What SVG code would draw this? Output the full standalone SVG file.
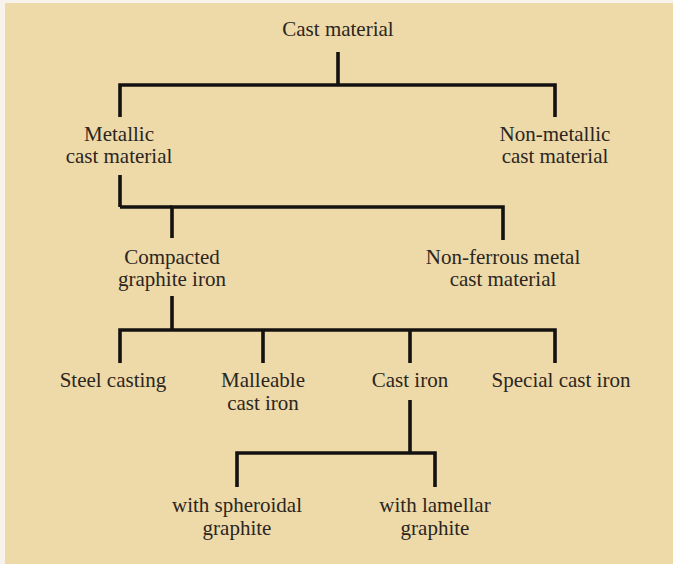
<svg xmlns="http://www.w3.org/2000/svg" width="673" height="564" viewBox="0 0 673 564">
<defs>
<style>
.bg{fill:#F7F3EC}
.paper{fill:#EED9A9}
.t{font-family:'Times New Roman','Liberation Serif',Times,'DejaVu Serif',serif;font-size:21px;fill:#2B2620;text-anchor:middle}
.c{fill:none;stroke:#141210;stroke-width:3.6;stroke-linecap:butt;stroke-linejoin:miter}
</style>
</defs>
<rect class="bg" x="0" y="0" width="673" height="564"/>
<rect class="paper" x="5" y="3" width="668" height="561"/>
<g id="connectors">
<path class="c" d="M338,52 V85"/>
<path class="c" d="M120,117 V85 H555 V117"/>
<path class="c" d="M120,175 V207"/>
<path class="c" d="M172,238 V207 H503 V240"/>
<path class="c" d="M120,207 H172"/>
<path class="c" d="M172,296 V330"/>
<path class="c" d="M120,363 V330 H555 V363"/>
<path class="c" d="M263,330 V363"/>
<path class="c" d="M410,330 V363"/>
<path class="c" d="M410,400 V453"/>
<path class="c" d="M237,487 V453 H435 V487"/>
</g>
<g id="nodes">
<g id="cast-material"><text class="t" x="338" y="36">Cast material</text></g>
<g id="metallic"><text class="t" x="119" y="141">Metallic</text><text class="t" x="119" y="163">cast material</text></g>
<g id="non-metallic"><text class="t" x="555" y="141">Non-metallic</text><text class="t" x="555" y="163">cast material</text></g>
<g id="compacted"><text class="t" x="172" y="264">Compacted</text><text class="t" x="172" y="286">graphite iron</text></g>
<g id="non-ferrous"><text class="t" x="503" y="264">Non-ferrous metal</text><text class="t" x="503" y="286">cast material</text></g>
<g id="steel-casting"><text class="t" x="113" y="387">Steel casting</text></g>
<g id="malleable"><text class="t" x="263" y="387">Malleable</text><text class="t" x="263" y="410">cast iron</text></g>
<g id="cast-iron"><text class="t" x="410" y="387">Cast iron</text></g>
<g id="special"><text class="t" x="561" y="387">Special cast iron</text></g>
<g id="spheroidal"><text class="t" x="237" y="512">with spheroidal</text><text class="t" x="237" y="535">graphite</text></g>
<g id="lamellar"><text class="t" x="435" y="512">with lamellar</text><text class="t" x="435" y="535">graphite</text></g>
</g>
</svg>
